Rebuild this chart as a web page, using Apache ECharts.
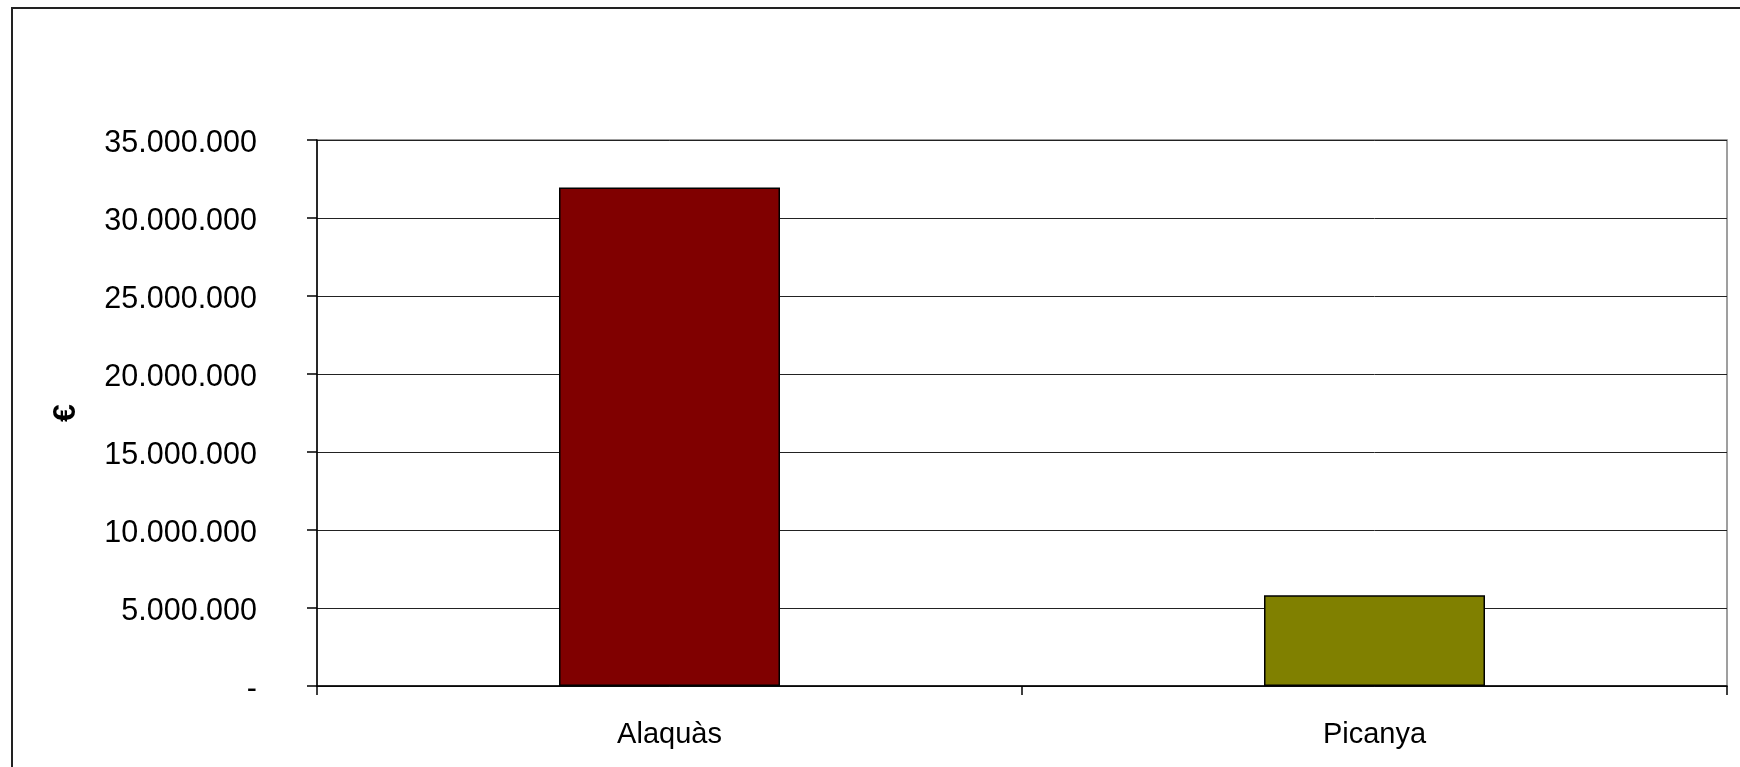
<!DOCTYPE html>
<html>
<head>
<meta charset="utf-8">
<script src="https://cdn.jsdelivr.net/npm/echarts@6/dist/echarts.min.js"></script>
<style>
html,body{margin:0;padding:0;background:#fff;}
#chart{width:1740px;height:767px;}
</style>
</head>
<body>
<div id="chart"></div>
<script>
var categories = ['Alaquàs', 'Picanya'];
var values = [31950000, 5810000];
var barColors = ['#800000', '#808000'];
var yAxisName = '€';

function fmt(v) {
  if (v === 0) return '-';
  return String(v).replace(/\B(?=(\d{3})+(?!\d))/g, '.');
}

var chart = echarts.init(document.getElementById('chart'), null, {renderer: 'canvas'});
chart.setOption({
  animation: false,
  backgroundColor: '#fff',
  textStyle: {fontFamily: 'Liberation Sans, Arial, sans-serif'},
  graphic: [{
    type: 'rect',
    shape: {x: 12, y: 8, width: 1760, height: 800},
    style: {fill: 'none', stroke: '#222', lineWidth: 2},
    silent: true
  }],
  grid: {
    left: 317, right: 13, top: 140, bottom: 81,
    show: true, borderColor: '#808080', borderWidth: 1.5,
    containLabel: false
  },
  xAxis: {
    type: 'category',
    data: categories,
    axisLine: {lineStyle: {color: '#000', width: 1.5}},
    axisTick: {show: true, length: 9, lineStyle: {color: '#000', width: 1.5}},
    axisLabel: {color: '#000', fontSize: 29, margin: 34, fontFamily: 'Liberation Sans, Arial, sans-serif'},
    splitLine: {show: false}
  },
  yAxis: {
    type: 'value',
    min: 0, max: 35000000, interval: 5000000,
    name: yAxisName,
    nameLocation: 'middle',
    nameRotate: 90,
    nameGap: 235,
    nameTextStyle: {color: '#000', fontSize: 32, fontWeight: 'bold', fontFamily: 'Liberation Sans, Arial, sans-serif'},
    axisLine: {show: true, lineStyle: {color: '#000', width: 1.5}},
    axisTick: {show: true, length: 10, inside: false, lineStyle: {color: '#000', width: 1.5}},
    axisLabel: {color: '#000', fontSize: 30.5, margin: 60, verticalAlign: 'top', lineHeight: 7, formatter: fmt, fontFamily: 'Liberation Sans, Arial, sans-serif'},
    splitLine: {show: true, lineStyle: {color: '#222', width: 1}}
  },
  series: [{
    type: 'bar',
    barWidth: 221,
    data: values.map(function (v, i) {
      return {value: v, itemStyle: {color: barColors[i], borderColor: '#000', borderWidth: 1.5}};
    })
  }]
});
</script>
</body>
</html>
